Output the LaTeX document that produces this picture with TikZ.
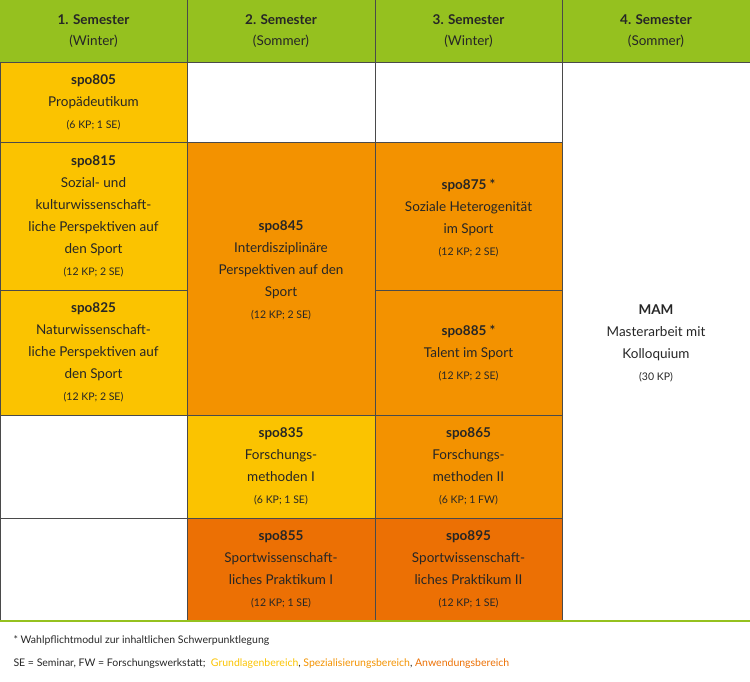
\documentclass[tikz,border=0pt]{standalone}
\usepackage{fontspec}
\setmainfont{Lato}
\definecolor{gy}{HTML}{FBC300}
\definecolor{go}{HTML}{F39200}
\definecolor{gd}{HTML}{EC7004}
\definecolor{gg}{HTML}{95C11F}
\definecolor{ln}{HTML}{4A4A4A}
\begin{document}
\begin{tikzpicture}[x=1pt,y=-1pt,
 cell/.style={draw=ln,line width=0.7pt},
 txt/.style={align=center,font=\fontsize{13.5}{22}\selectfont,text=black!85},
 hd/.style={align=center,font=\fontsize{13.5}{21}\selectfont,text=black!85}]
\useasboundingbox (0,0) rectangle (750,682);
\fill[gg] (0,0) rectangle (750,62);
\foreach \x in {187,375,562} \draw[ln,line width=0.7pt] (\x,0)--(\x,62);
\node[hd] (h1) at (93.5,31) {\textbf{1. Semester}\\(Winter)};
\node[hd] (h2) at (281,31) {\textbf{2. Semester}\\(Sommer)};
\node[hd] (h3) at (468.5,31) {\textbf{3. Semester}\\(Winter)};
\node[hd] (h4) at (656,31) {\textbf{4. Semester}\\(Sommer)};
\newcommand{\kp}[1]{{\fontsize{10.5}{22}\selectfont #1}}
% column 1
\filldraw[cell,fill=gy] (0,62) rectangle (187,142);
\node[txt] (a1) at (93.5,102) {\textbf{spo805}\\Propädeutikum\\\kp{(6 KP; 1 SE)}};
\filldraw[cell,fill=gy] (0,142) rectangle (187,290);
\node[txt] (a2) at (93.5,216) {\textbf{spo815}\\Sozial- und\\kulturwissenschaft-\\liche Perspektiven auf\\den Sport\\\kp{(12 KP; 2 SE)}};
\filldraw[cell,fill=gy] (0,290) rectangle (187,415);
\node[txt] (a3) at (93.5,352) {\textbf{spo825}\\Naturwissenschaft-\\liche Perspektiven auf\\den Sport\\\kp{(12 KP; 2 SE)}};
\draw[cell] (0,415) rectangle (187,518);
\draw[cell] (0,518) rectangle (187,620);
% column 2
\draw[cell] (187,62) rectangle (375,142);
\filldraw[cell,fill=go] (187,142) rectangle (375,415);
\node[txt] (b1) at (281,270) {\textbf{spo845}\\Interdisziplinäre\\Perspektiven auf den\\Sport\\\kp{(12 KP; 2 SE)}};
\filldraw[cell,fill=gy] (187,415) rectangle (375,518);
\node[txt] (b2) at (281,466) {\textbf{spo835}\\Forschungs-\\methoden I\\\kp{(6 KP; 1 SE)}};
\filldraw[cell,fill=gd] (187,518) rectangle (375,620);
\node[txt] (b3) at (281,569) {\textbf{spo855}\\Sportwissenschaft-\\liches Praktikum I\\\kp{(12 KP; 1 SE)}};
% column 3
\draw[cell] (375,62) rectangle (562,142);
\filldraw[cell,fill=go] (375,142) rectangle (562,290);
\node[txt] (c1) at (468.5,218) {\textbf{spo875 *}\\Soziale Heterogenität\\im Sport\\\kp{(12 KP; 2 SE)}};
\filldraw[cell,fill=go] (375,290) rectangle (562,415);
\node[txt] (c2) at (468.5,353) {\textbf{spo885 *}\\Talent im Sport\\\kp{(12 KP; 2 SE)}};
\filldraw[cell,fill=go] (375,415) rectangle (562,518);
\node[txt] (c3) at (468.5,466) {\textbf{spo865}\\Forschungs-\\methoden II\\\kp{(6 KP; 1 FW)}};
\filldraw[cell,fill=gd] (375,518) rectangle (562,620);
\node[txt] (c4) at (468.5,569) {\textbf{spo895}\\Sportwissenschaft-\\liches Praktikum II\\\kp{(12 KP; 1 SE)}};
% column 4
\draw[cell] (562,62) rectangle (750,620);
\node[txt] (d1) at (656,343) {\textbf{MAM}\\Masterarbeit mit\\Kolloquium\\\kp{(30 KP)}};
\draw[gg,line width=2pt] (0,621)--(750,621);
\node[anchor=west,font=\fontsize{10.5}{13}\selectfont,text=black!85] (f1) at (10,641) {* Wahlpflichtmodul zur inhaltlichen Schwerpunktlegung};
\node[anchor=west,font=\fontsize{10.5}{13}\selectfont,text=black!85] (f2) at (10,664) {SE = Seminar, FW = Forschungswerkstatt;\ \ \textcolor{gy}{Grundlagenbereich}, \textcolor{go}{Spezialisierungsbereich}, \textcolor{gd}{Anwendungsbereich}};
\end{tikzpicture}
\end{document}
